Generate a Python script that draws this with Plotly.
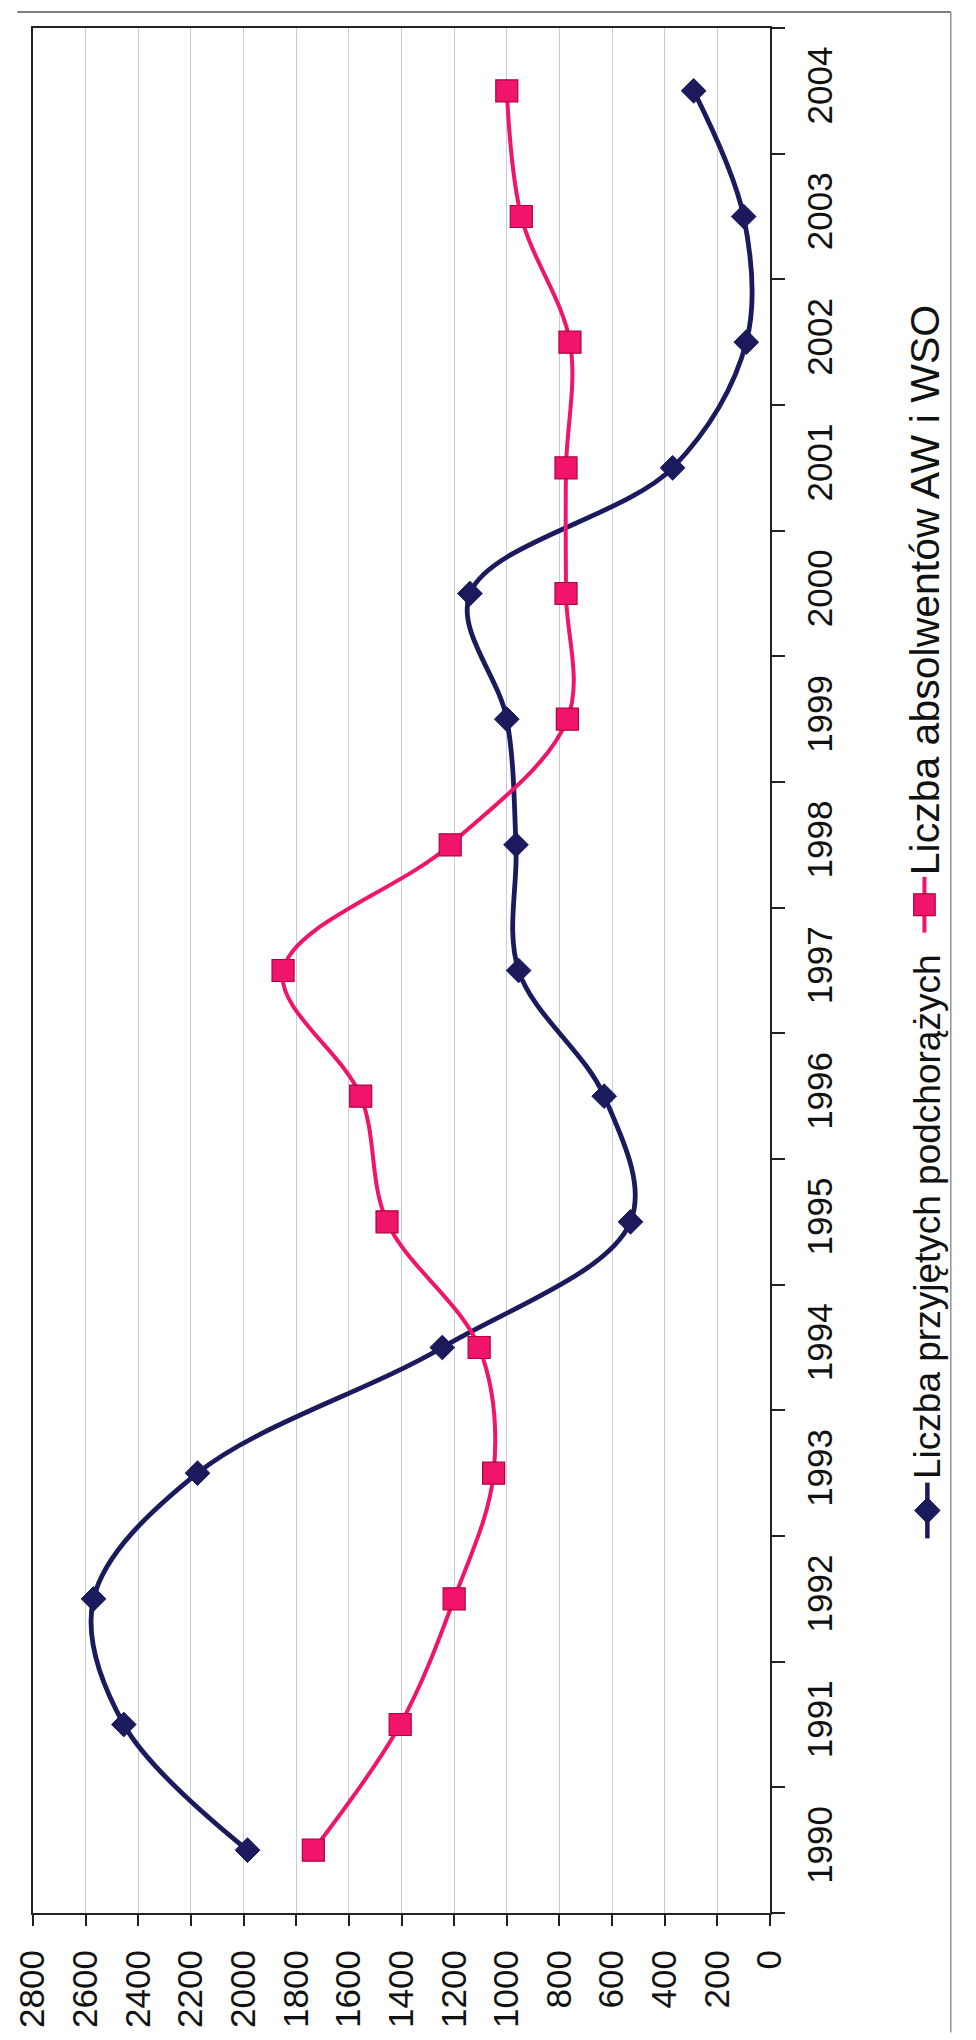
import plotly.graph_objects as go

# ---------------- data ----------------
years = ["1990", "1991", "1992", "1993", "1994", "1995", "1996", "1997",
         "1998", "1999", "2000", "2001", "2002", "2003", "2004"]
przyjeci = [1985, 2455, 2570, 2175, 1245, 530, 630, 955, 965, 1000, 1140, 370, 90, 100, 290]
absolwenci = [1735, 1405, 1200, 1050, 1105, 1455, 1555, 1850, 1215, 770, 775, 775, 760, 945, 1000]
value_ticks = [0, 200, 400, 600, 800, 1000, 1200, 1400, 1600, 1800, 2000, 2200, 2400, 2600, 2800]
series_names = ["Liczba przyjętych podchorążych", "Liczba absolwentów AW i WSO"]

# ---------------- styling ----------------
W, H = 976, 2040
L, R, T, B = 16, 770, 28, 1920          # plot area in page pixels
NAVY = "#1a1a5c"
PINK = "#f0146a"
PINK_EDGE = "#b00040"
GRID = "#c9cbdd"
FONT = "Liberation Sans, Arial, sans-serif"


def px_x(px):
    return (px - L) / (R - L)


def px_y(py):
    return (B - py) / (B - T)


fig = go.Figure()
fig.add_trace(go.Scatter(
    x=przyjeci, y=years, name=series_names[0], mode="lines+markers",
    line=dict(color=NAVY, width=4.8, shape="spline", smoothing=1.0),
    marker=dict(symbol="diamond", size=19, color=NAVY, line=dict(color=NAVY, width=1)),
))
fig.add_trace(go.Scatter(
    x=absolwenci, y=years, name=series_names[1], mode="lines+markers",
    line=dict(color=PINK, width=4, shape="spline", smoothing=1.0),
    marker=dict(symbol="square", size=22, color=PINK, line=dict(color=PINK_EDGE, width=1.2)),
))

fig.update_layout(
    width=W, height=H,
    margin=dict(l=L, r=W - R, t=T, b=H - B, pad=0),
    paper_bgcolor="white", plot_bgcolor="white",
    showlegend=False,
    font=dict(family=FONT, color="#111111", size=35),
)

fig.update_xaxes(
    range=[2800, 0],
    tickmode="array", tickvals=value_ticks, ticktext=[str(v) for v in value_ticks],
    tickangle=-90, tickfont=dict(size=35, family=FONT),
    ticks="outside", ticklen=11, tickwidth=1.5, tickcolor="#222222",
    ticklabelstandoff=10, ticklabeloverflow="allow",
    showline=True, linecolor="#222222", linewidth=2, mirror=True,
    showgrid=True, gridcolor=GRID, gridwidth=1, zeroline=False,
)
fig.update_yaxes(
    type="category", categoryorder="array", categoryarray=years,
    range=[-0.5, 14.5], side="right",
    tickangle=-90, tickfont=dict(size=35, family=FONT),
    ticks="outside", tickson="boundaries", ticklen=13, tickwidth=1.5, tickcolor="#222222",
    ticklabelstandoff=18, ticklabeloverflow="allow",
    showline=True, linecolor="#222222", linewidth=2, mirror=True,
    showgrid=False, zeroline=False,
)

# ---------------- rotated legend ----------------
shapes = []
# blue entry
bx, by = 931, 1516
shapes.append(dict(type="line", xref="paper", yref="paper",
                   x0=px_x(bx), x1=px_x(bx), y0=px_y(by - 28), y1=px_y(by + 28),
                   line=dict(color=NAVY, width=4.5)))
d = 13
path = "M {} {} L {} {} L {} {} L {} {} Z".format(
    px_x(bx), px_y(by - d), px_x(bx + d), px_y(by),
    px_x(bx), px_y(by + d), px_x(bx - d), px_y(by))
shapes.append(dict(type="path", xref="paper", yref="paper", path=path,
                   fillcolor=NAVY, line=dict(color=NAVY, width=1)))
# pink entry
pxp, pyp = 928, 908
shapes.append(dict(type="line", xref="paper", yref="paper",
                   x0=px_x(pxp), x1=px_x(pxp), y0=px_y(pyp - 28), y1=px_y(pyp + 28),
                   line=dict(color=PINK, width=4)))
s = 11
shapes.append(dict(type="rect", xref="paper", yref="paper",
                   x0=px_x(pxp - s), x1=px_x(pxp + s), y0=px_y(pyp - s), y1=px_y(pyp + s),
                   fillcolor=PINK, line=dict(color=PINK_EDGE, width=1.2)))
# outer chart-area frame (top and right)
shapes.append(dict(type="line", xref="paper", yref="paper",
                   x0=px_x(0), x1=px_x(955), y0=px_y(12), y1=px_y(12),
                   line=dict(color="#555555", width=1.5)))
shapes.append(dict(type="line", xref="paper", yref="paper",
                   x0=px_x(955), x1=px_x(955), y0=px_y(12), y1=px_y(2040),
                   line=dict(color="#777777", width=1.2)))
fig.update_layout(shapes=shapes)

fig.add_annotation(text=series_names[0], xref="paper", yref="paper",
                   x=px_x(931), y=px_y(1486), xanchor="center", yanchor="bottom",
                   textangle=-90, showarrow=False,
                   font=dict(size=37, family=FONT, color="#111111"))
fig.add_annotation(text=series_names[1], xref="paper", yref="paper",
                   x=px_x(928), y=px_y(880), xanchor="center", yanchor="bottom",
                   textangle=-90, showarrow=False,
                   font=dict(size=41, family=FONT, color="#111111"))

fig.write_html("out.html")
